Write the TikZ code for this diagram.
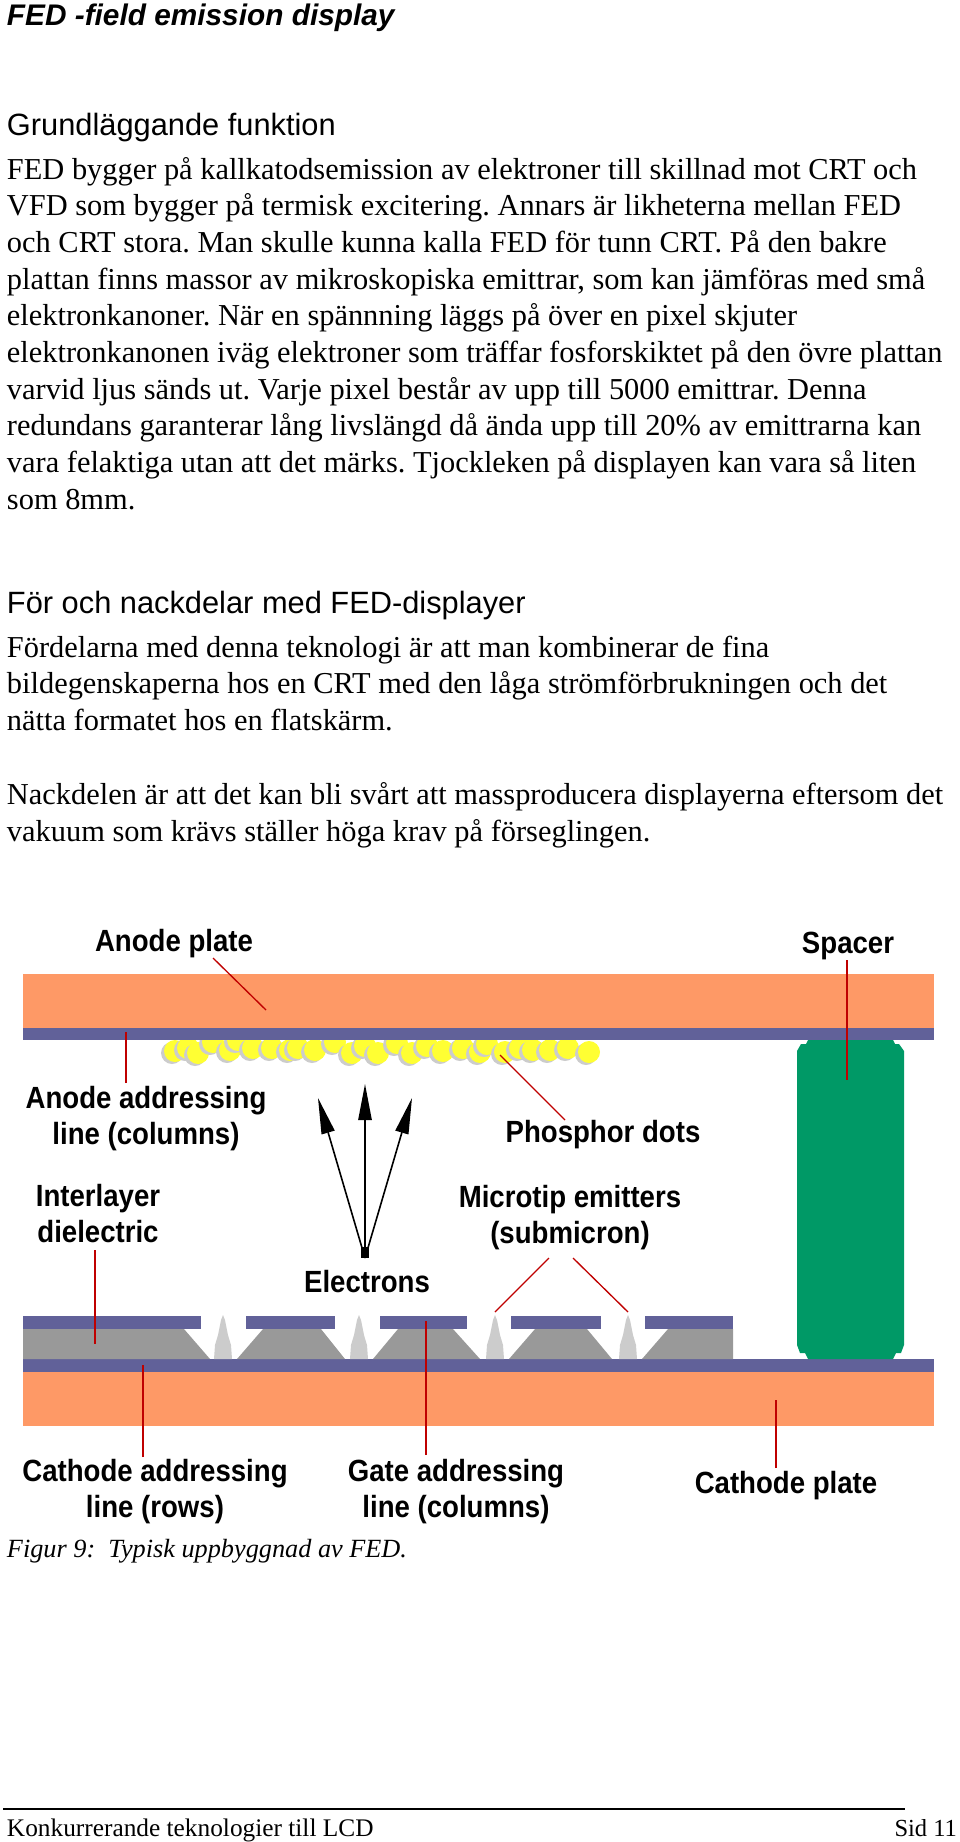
\documentclass[tikz,border=0pt]{standalone}
\usepackage{fontspec}
\usetikzlibrary{arrows.meta, calc}
\setmainfont{Liberation Serif}
\newfontfamily\headfont{Liberation Sans}
\newfontfamily\partfont[FakeStretch=0.9]{Liberation Sans}
\definecolor{plate}{RGB}{254,153,102}
\definecolor{line}{RGB}{97,97,153}
\definecolor{oxide}{RGB}{153,153,153}
\definecolor{tipgray}{RGB}{204,204,204}
\definecolor{spacer}{RGB}{0,153,102}
\definecolor{dot}{RGB}{255,255,51}

\begin{document}
\frenchspacing
\begin{tikzpicture}[
                    x=0.75pt,
                    y=-0.75pt,
                    every node/.style={inner sep=0pt, outer sep=0pt},
                    body/.style={anchor=base west, align=left, font=\fontsize{22.8pt}{27.5pt}\selectfont},
                    heading/.style={anchor=base west, font=\headfont\fontsize{23.1pt}{26pt}\selectfont},
                    part/.style={anchor=base, align=center, font=\partfont\bfseries\fontsize{23pt}{26.3pt}\selectfont},
                    leader/.style={draw=red!75!black, line width=1pt},
                    electron/.style={-{Stealth[inset=0pt, length=27pt, width=10pt]}, line width=1.2pt},
                ]
                \useasboundingbox (0,0) rectangle (960,1842);

                % page text
                \node[anchor=base west, font=\headfont\bfseries\itshape\fontsize{22.35pt}{25pt}\selectfont] (title) at (7,25) {FED -field emission display};
                \node[heading] (basics) at (7,135) {Grundläggande funktion};
                \node[body] (para) at (7,509) {FED bygger på kallkatodsemission av elektroner till skillnad mot CRT och\\
                VFD som bygger på termisk excitering. Annars är likheterna mellan FED\\
                och CRT stora. Man skulle kunna kalla FED för tunn CRT. På den bakre\\
                plattan finns massor av mikroskopiska emittrar, som kan jämföras med små\\
                elektronkanoner. När en spännning läggs på över en pixel skjuter\\
                elektronkanonen iväg elektroner som träffar fosforskiktet på den övre plattan\\
                varvid ljus sänds ut. Varje pixel består av upp till 5000 emittrar. Denna\\
                redundans garanterar lång livslängd då ända upp till 20\% av emittrarna kan\\
                vara felaktiga utan att det märks. Tjockleken på displayen kan vara så liten\\
                som 8mm.};
                \node[heading] (procons) at (7,613) {För och nackdelar med FED-displayer};
                \node[body] (pros) at (7,730.5) {Fördelarna med denna teknologi är att man kombinerar de fina\\
                bildegenskaperna hos en CRT med den låga strömförbrukningen och det\\
                nätta formatet hos en flatskärm.};
                \node[body] (cons) at (7,841) {Nackdelen är att det kan bli svårt att massproducera displayerna eftersom det\\
                vakuum som krävs ställer höga krav på förseglingen.};
                \node[anchor=base west, font=\itshape\fontsize{19.7pt}{22pt}\selectfont] (caption) at (7,1557) {Figur 9:\ \ Typisk uppbyggnad av FED.};
                \node[anchor=base west, font=\fontsize{19pt}{22pt}\selectfont] (footer) at (7,1836) {Konkurrerande teknologier till LCD};
                \node[anchor=base east, font=\fontsize{18.4pt}{22pt}\selectfont] (page) at (957,1836) {Sid 11};
                \coordinate (ruleleft) at (3,1809);
                \coordinate (ruleright) at (905,1809);
                \draw[line width=1pt] (ruleleft) -- (ruleright);

                % phosphor dots
                \foreach \x/\y in {175/1051, 188/1048, 198/1053, 213/1042, 230/1050, 238/1040, 253/1048, 272/1048, 290/1050, 298/1048, 315/1050, 335/1042, 352/1053, 365/1046, 378/1053, 397/1043, 412/1053, 427/1046, 443/1051, 463/1048, 480/1052, 487/1044, 505/1052, 520/1048, 533/1050, 550/1050, 568/1048, 589/1052}{
                    \fill[tipgray] (\x-3,\y+2) circle (11);
                    \fill[dot] (\x,\y) circle (11);
                }

                % plates
                \fill[plate] (23,974) rectangle (934,1028);
                \fill[line] (23,1028) rectangle (934,1040);
                \fill[plate] (23,1372) rectangle (934,1426);
                \fill[line] (23,1359) rectangle (934,1372);

                % spacer
                \fill[spacer] (808,1040) -- (893,1040) -- (895,1044) -- (899,1044) -- (904,1051) -- (904,1345) -- (901,1353) -- (896,1353) -- (893,1359) -- (808,1359) -- (805,1353) -- (800,1353) -- (797,1345) -- (797,1051) -- (801,1044) -- (806,1044) -- cycle;

                % dielectric
                \fill[oxide] (23,1329) -- (184,1329) -- (210,1359) -- (23,1359) -- cycle;
                \fill[oxide] (263,1329) -- (321,1329) -- (345,1359) -- (237,1359) -- cycle;
                \fill[oxide] (398,1329) -- (453,1329) -- (480,1359) -- (373,1359) -- cycle;
                \fill[oxide] (535,1329) -- (587,1329) -- (612,1359) -- (509,1359) -- cycle;
                \fill[oxide] (668,1329) -- (733,1329) -- (733,1359) -- (642,1359) -- cycle;

                % gate lines
                \foreach \xa/\xb in {23/201, 246/335, 380/467, 511/601, 645/733}{
                    \fill[line] (\xa,1316) rectangle (\xb,1329);
                }

                % emitters
                \foreach \x in {223, 359, 495, 628}{
                    \fill[tipgray] (\x-9,1359) -- (\x-8,1345) -- (\x-5,1335) -- (\x-2,1320) -- (\x,1315) -- (\x+2,1320) -- (\x+5,1335) -- (\x+8,1345) -- (\x+9,1359) -- cycle;
                }

                % part labels
                \node[part] (anodeplate) at (174,951) {Anode plate};
                \node[part] (spacerlabel) at (848,953) {Spacer};
                \node[part] (anodeline) at (146,1144) {Anode addressing\\line (columns)};
                \node[part] (phosphor) at (603,1142) {Phosphor dots};
                \node[part] (dielectric) at (98,1242) {Interlayer\\dielectric};
                \node[part] (microtip) at (570,1243) {Microtip emitters\\(submicron)};
                \node[part] (electrons) at (367,1292) {Electrons};
                \node[part] (cathodeline) at (155,1517) {Cathode addressing\\line (rows)};
                \node[part] (gateline) at (456,1517) {Gate addressing\\line (columns)};
                \node[part] (cathodeplate) at (786,1493) {Cathode plate};

                % leaders
                \coordinate (anodeplateend) at (266,1010);
                \coordinate (anodelineend) at (126,1032);
                \coordinate (spacerend) at (847,1080);
                \coordinate (phosphorend) at (500,1055);
                \coordinate (dielectricend) at (95,1344);
                \coordinate (cathodelineend) at (143,1365);
                \coordinate (gatelineend) at (426,1321);
                \coordinate (microtipa) at (495,1312);
                \coordinate (microtipb) at (628,1312);
                \coordinate (cathodeplateend) at (776,1400);
                \draw[leader] ([shift={(39,7)}]anodeplate.base) -- (anodeplateend);
                \draw[leader] ([shift={(-20,-61)}]anodeline.base) -- (anodelineend);
                \draw[leader] ([shift={(-1,7)}]spacerlabel.base) -- (spacerend);
                \draw[leader] ([shift={(-38,-22)}]phosphor.base) -- (phosphorend);
                \draw[leader] ([shift={(-3,8)}]dielectric.base) -- (dielectricend);
                \draw[leader] ([shift={(-12,-60)}]cathodeline.base) -- (cathodelineend);
                \draw[leader] ([shift={(-30,-62)}]gateline.base) -- (gatelineend);
                \draw[leader] ([shift={(-21,15)}]microtip.base) -- (microtipa);
                \draw[leader] ([shift={(3,15)}]microtip.base) -- (microtipb);
                \draw[leader] ([shift={(-10,-25)}]cathodeplate.base) -- (cathodeplateend);

                % electrons
                \coordinate (beamsource) at ([shift={(-2,-34)}]electrons.base);
                \coordinate (beamleft) at (318,1098);
                \coordinate (beammid) at (365,1084);
                \coordinate (beamright) at (412,1098);
                \draw[electron] (beamsource) -- (beamleft);
                \draw[electron] (beamsource) -- (beammid);
                \draw[electron] (beamsource) -- (beamright);
                \fill (361,1247) rectangle (369,1258);
\end{tikzpicture}
\end{document}
